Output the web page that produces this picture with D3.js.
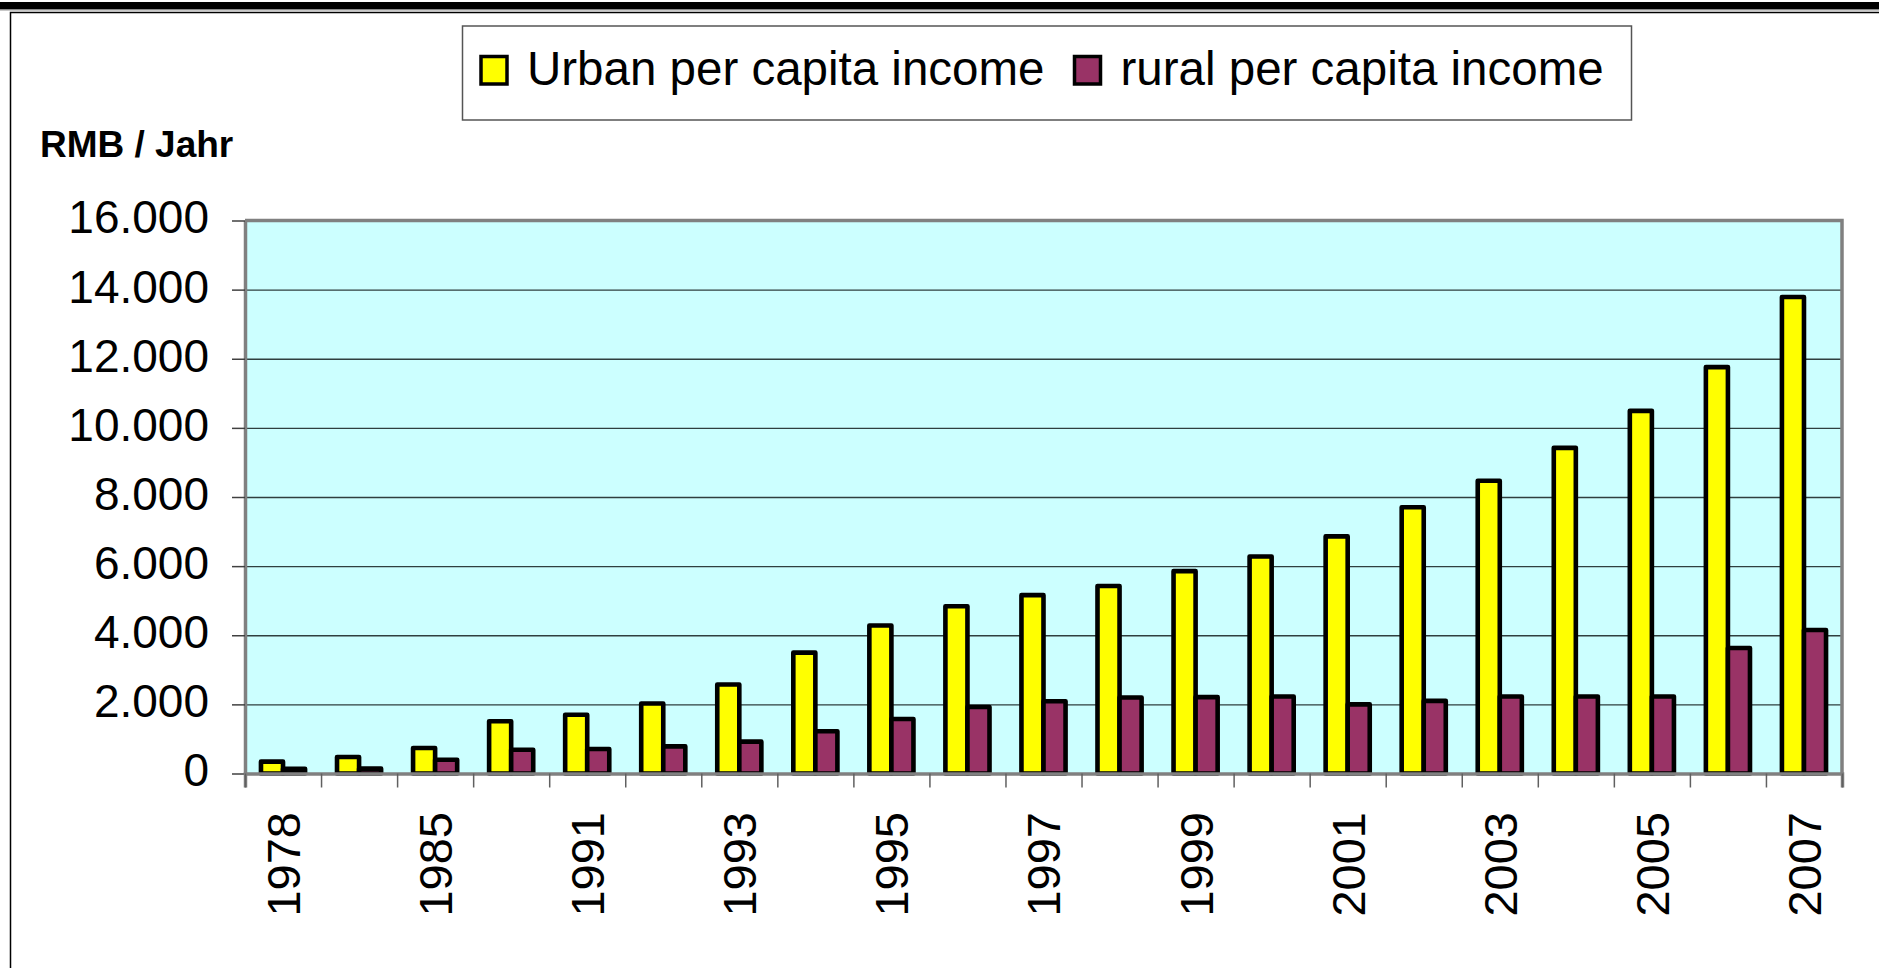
<!DOCTYPE html>
<html>
<head>
<meta charset="utf-8">
<script src="https://cdn.jsdelivr.net/npm/d3@7"></script>
<style>
  html, body { margin: 0; padding: 0; background: #fff; }
  svg { display: block; font-family: "Liberation Sans", Arial, sans-serif; }
</style>
</head>
<body>
<svg id="chart" width="1879" height="968"></svg>
<script>
// ---- data ----
const categories = ["1978","1980","1985","1990","1991","1992","1993","1994","1995","1996","1997","1998","1999","2000","2001","2002","2003","2004","2005","2006","2007"];
const urbanIncome = [343, 478, 739, 1510, 1700, 2027, 2577, 3496, 4283, 4839, 5160, 5425, 5854, 6280, 6860, 7703, 8472, 9422, 10493, 11759, 13786];
const ruralIncome = [134, 140, 398, 686, 709, 784, 922, 1221, 1578, 1926, 2090, 2200, 2210, 2230, 2000, 2100, 2230, 2230, 2230, 3630, 4150];
const seriesNames = ["Urban per capita income", "rural per capita income"];
const seriesColors = ["#FFFF00", "#993366"];
const yTicks = [0, 2000, 4000, 6000, 8000, 10000, 12000, 14000, 16000];
const xTickLabels = ["1978","1985","1991","1993","1995","1997","1999","2001","2003","2005","2007"];
const yAxisTitle = "RMB / Jahr";

// ---- layout ----
const svg = d3.select("#chart");
const W = 1879, H = 968;
const plot = { left: 245, right: 1842, top: 220.5, bottom: 773.5 };

const de = d3.formatLocale({ decimal: ",", thousands: ".", grouping: [3], currency: ["", " €"] });
const fmt = de.format(",");

const x0 = d3.scaleBand().domain(categories).range([plot.left, plot.right])
  .paddingInner(0.42).paddingOuter(0.21);
const x1 = d3.scaleBand().domain(seriesNames).range([0, x0.bandwidth()]);
const y = d3.scaleLinear().domain([0, 16000]).range([plot.bottom, plot.top]);
const color = d3.scaleOrdinal().domain(seriesNames).range(seriesColors);

// page decorations: top black bar and frame
svg.append("rect").attr("x", 0).attr("y", 2).attr("width", W).attr("height", 7.5).attr("fill", "#000");
svg.append("line").attr("x1", 0).attr("x2", W).attr("y1", 10.3).attr("y2", 10.3).attr("stroke", "#bbb").attr("stroke-width", 1);
svg.append("path").attr("d", `M10.5,${H} V12.5 H${W}`).attr("fill", "none").attr("stroke", "#000").attr("stroke-width", 1.5);

// plot background
svg.append("rect").attr("x", plot.left).attr("y", plot.top)
  .attr("width", plot.right - plot.left).attr("height", plot.bottom - plot.top)
  .attr("fill", "#CCFFFF");

// gridlines
const grid = svg.append("g").attr("transform", `translate(${plot.left},0)`)
  .call(d3.axisLeft(y).tickValues(yTicks.slice(1, -1)).tickSize(-(plot.right - plot.left)).tickFormat(""));
grid.select(".domain").remove();
grid.selectAll("line").attr("stroke", "#2f3f3f").attr("stroke-width", 1.4);

// bars
const rows = categories.map((c, i) => ({ cat: c, values: [urbanIncome[i], ruralIncome[i]] }));
const groups = svg.append("g").selectAll("g").data(rows).join("g")
  .attr("transform", d => `translate(${x0(d.cat)},0)`);
groups.selectAll("rect").data(d => d.values.map((v, j) => ({ key: seriesNames[j], v })))
  .join("rect")
  .attr("x", d => x1(d.key))
  .attr("y", d => y(d.v))
  .attr("width", x1.bandwidth())
  .attr("height", d => y(0) - y(d.v))
  .attr("fill", d => color(d.key))
  .attr("stroke", "#000")
  .attr("stroke-width", 4.6)
  .attr("stroke-linejoin", "round");

// plot border top/right
svg.append("path").attr("d", `M${plot.left},${plot.top} H${plot.right} V${plot.bottom}`)
  .attr("fill", "none").attr("stroke", "#808080").attr("stroke-width", 3.5);

// y axis
const yAxis = svg.append("g").attr("transform", `translate(${plot.left},0)`)
  .call(d3.axisLeft(y).tickValues(yTicks).tickFormat(fmt).tickSize(13).tickSizeOuter(0).tickPadding(23));
yAxis.select(".domain").attr("stroke", "#808080").attr("stroke-width", 3.5);
yAxis.selectAll(".tick line").attr("stroke", "#404040").attr("stroke-width", 1.5);
yAxis.selectAll(".tick text").attr("font-size", 46).attr("fill", "#000")
  .attr("font-family", "Liberation Sans, Arial, sans-serif").attr("dy", "0.27em");

// x axis: tick marks at category boundaries
const xb = d3.scaleLinear().domain([0, categories.length]).range([plot.left, plot.right]);
const xAxisTicks = svg.append("g").attr("transform", `translate(0,${plot.bottom})`)
  .call(d3.axisBottom(xb).tickValues(d3.range(categories.length + 1)).tickSize(14).tickFormat(""));
xAxisTicks.select(".domain").attr("stroke", "#808080").attr("stroke-width", 3.5);
xAxisTicks.selectAll(".tick line").attr("stroke", "#606060").attr("stroke-width", 1.5);

// x axis labels (every other category)
const xAxisLabels = svg.append("g").attr("transform", `translate(0,${plot.bottom})`)
  .call(d3.axisBottom(x0).tickValues(xTickLabels).tickSize(0).tickPadding(0));
xAxisLabels.select(".domain").remove();
xAxisLabels.selectAll(".tick text")
  .attr("font-size", 47).attr("fill", "#000")
  .attr("font-family", "Liberation Sans, Arial, sans-serif")
  .attr("text-anchor", "end")
  .attr("transform", "translate(0,38.5) rotate(-90)")
  .attr("x", 0).attr("y", 0).attr("dy", "0.36em");

// y axis title
svg.append("text").attr("x", 40).attr("y", 157)
  .attr("font-size", 37).attr("font-weight", "bold").text(yAxisTitle);

// legend
const legend = svg.append("g");
legend.append("rect").attr("x", 462.5).attr("y", 26).attr("width", 1169).attr("height", 94)
  .attr("fill", "#fff").attr("stroke", "#555").attr("stroke-width", 1.5);
let lx = 481;
seriesNames.forEach((name, i) => {
  legend.append("rect").attr("x", lx).attr("y", 56.5).attr("width", 26).attr("height", 27.5)
    .attr("fill", color(name)).attr("stroke", "#000").attr("stroke-width", 3.5);
  const t = legend.append("text").attr("x", lx + 46).attr("y", 85)
    .attr("font-size", 47.5).attr("fill", "#000").text(name);
  const w = t.node().getComputedTextLength();
  lx = lx + 46 + w + 30;
});
</script>
</body>
</html>
